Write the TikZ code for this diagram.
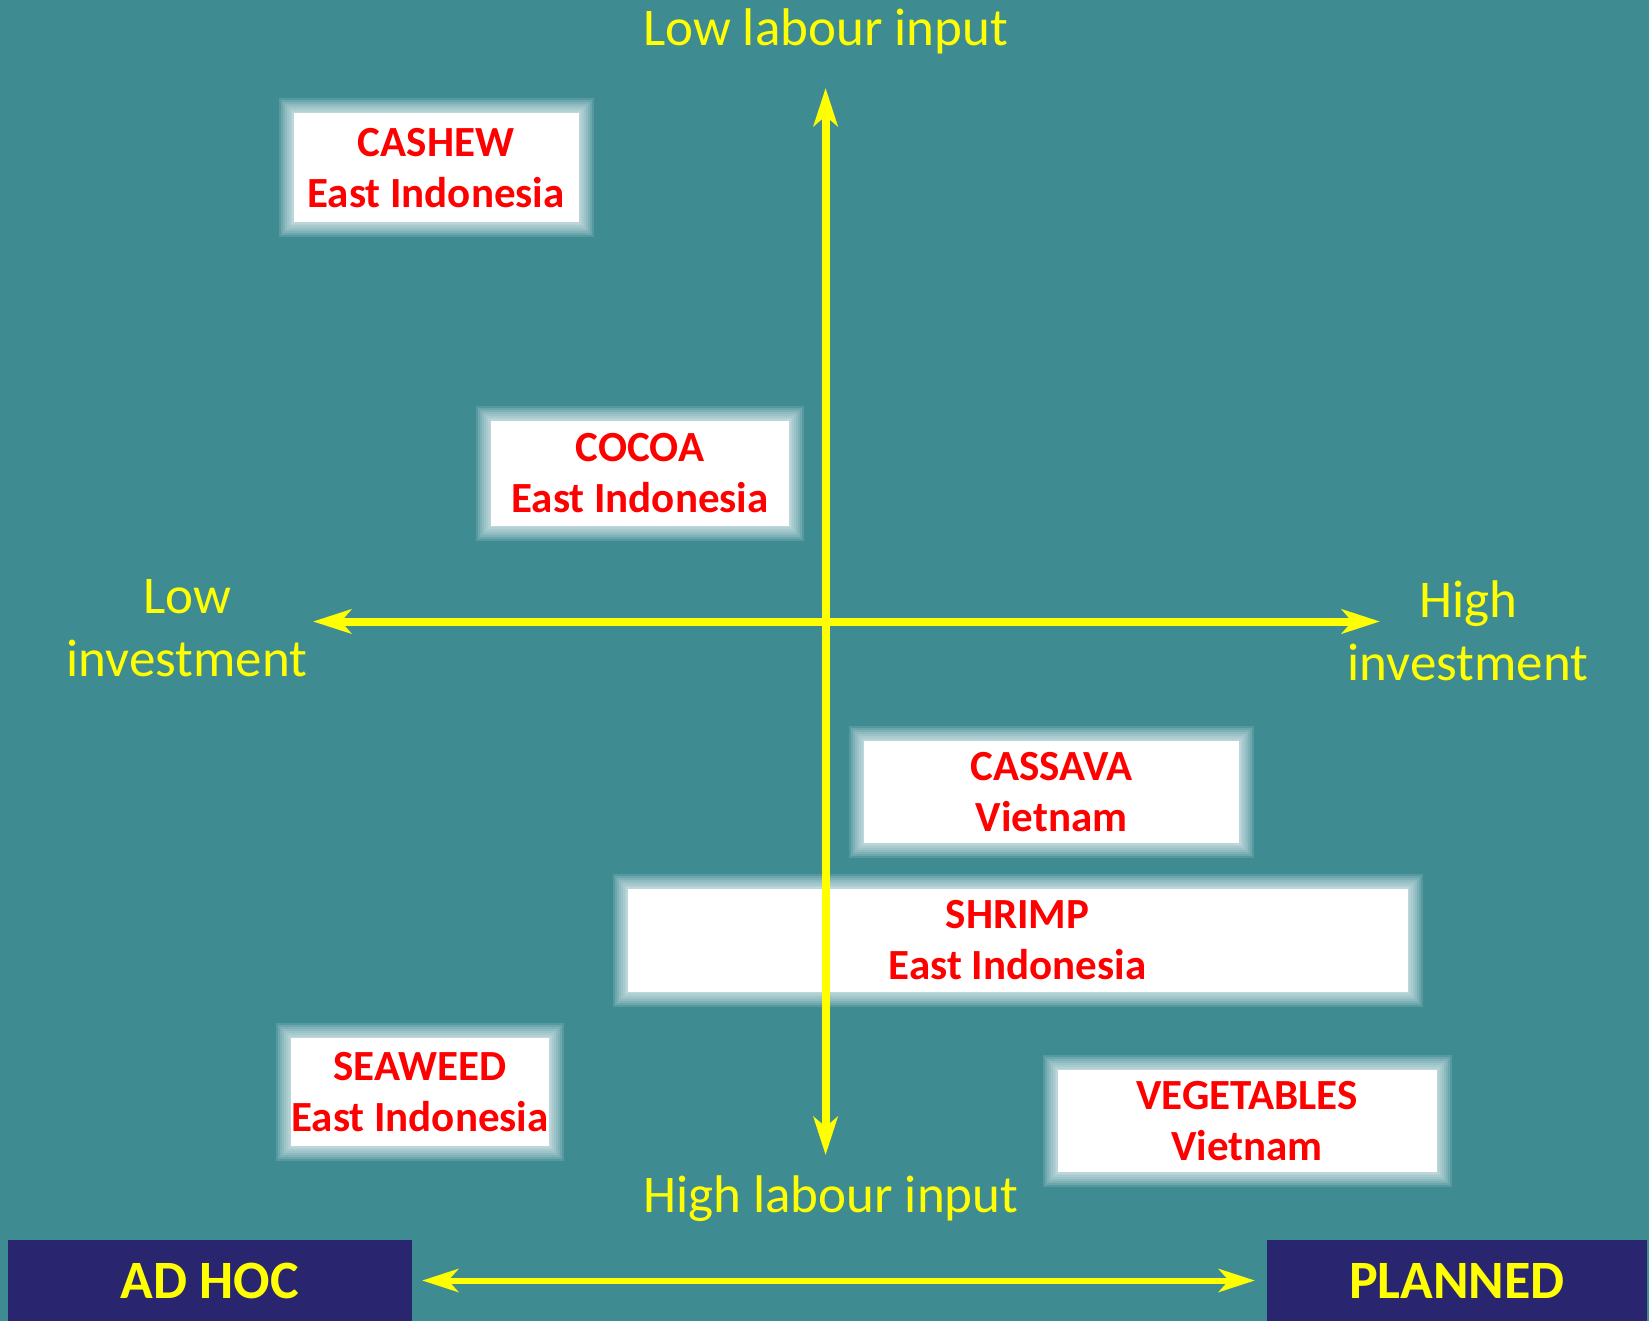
\documentclass[tikz,border=0pt]{standalone}
\usepackage{fontspec}
\setmainfont{Carlito}
\usepackage{tikz}
\usetikzlibrary{arrows.meta,positioning}
\definecolor{bgteal}{RGB}{62,140,146}
\definecolor{modenavy}{RGB}{41,38,111}
\definecolor{cropred}{RGB}{255,0,0}
\definecolor{axisyellow}{RGB}{255,255,0}
\tikzset{
    glow/.style={preaction={draw=white,draw opacity=0.13,line width=#1}},
    cropbox/.style={fill=white,inner sep=0pt,align=center,text=cropred,
        font=\bfseries\fontsize{43}{51.5}\selectfont,
        glow=30pt,glow=26pt,glow=22pt,glow=18pt,glow=14pt,glow=10pt,glow=6pt,glow=3pt},
    axisline/.style={draw=axisyellow,line width=8pt,
        {Stealth[length=38pt,width=24pt,inset=10pt]}-{Stealth[length=38pt,width=24pt,inset=10pt]}},
    axislabel/.style={text=axisyellow,align=center,inner sep=0pt,
        font=\fontsize{53}{63}\selectfont},
    modebox/.style={fill=modenavy,text=axisyellow,inner sep=0pt,
        minimum height=81pt,font=\bfseries\fontsize{54}{60}\selectfont},
    every node/.style={font=\small}
}
\begin{document}
\begin{tikzpicture}[x=1pt,y=-1pt]
  \fill[bgteal] (0,0) rectangle (1649,1321);
  \useasboundingbox (0,0) rectangle (1649,1321);

  % crop boxes
  \node[cropbox,minimum width=285pt,minimum height=109pt] (cashew) at (436,168) {CASHEW\\East Indonesia};
  \node[cropbox,minimum width=298pt,minimum height=105pt] (cocoa) at (640,473) {COCOA\\East Indonesia};
  \node[cropbox,minimum width=375pt,minimum height=102pt] (cassava) at (1051.5,792) {CASSAVA\\Vietnam};
  \node[cropbox,minimum width=780pt,minimum height=103pt] (shrimp) at (1017.5,940) {SHRIMP\\East Indonesia};
  \node[cropbox,minimum width=258pt,minimum height=108pt] (seaweed) at (420,1092) {SEAWEED\\East Indonesia};
  \node[cropbox,minimum width=379pt,minimum height=102pt] (vegetables) at (1247,1121) {VEGETABLES\\Vietnam};

  % axes
  \coordinate (labtop) at (825.6,88);
  \coordinate (labbot) at (825.6,1155);
  \coordinate (invleft) at (313,621.5);
  \coordinate (invright) at (1380,621.5);
  \draw[axisline] (labtop) -- (labbot);
  \draw[axisline] (invleft) -- (invright);

  \node[axislabel] (lowlab) at (825.6,31.5) {Low labour input};
  \node[axislabel] (highlab) at (831,1199) {High labour input};
  \node[axislabel] (lowinv) at (187,628) {Low\\investment};
  \node[axislabel] (highinv) at (1468,631) {High\\investment};

  % planning scale
  \node[modebox,minimum width=404pt] (adhoc) at (210,1280.5) {AD HOC};
  \node[modebox,minimum width=380pt] (planned) at (1457,1280.5) {PLANNED};
  \draw[draw=axisyellow,line width=6pt,
        {Stealth[length=36pt,width=23pt,inset=10pt]}-{Stealth[length=36pt,width=23pt,inset=10pt]},
        shorten <=10pt,shorten >=12pt] (adhoc.east) -- (planned.west);
\end{tikzpicture}
\end{document}
